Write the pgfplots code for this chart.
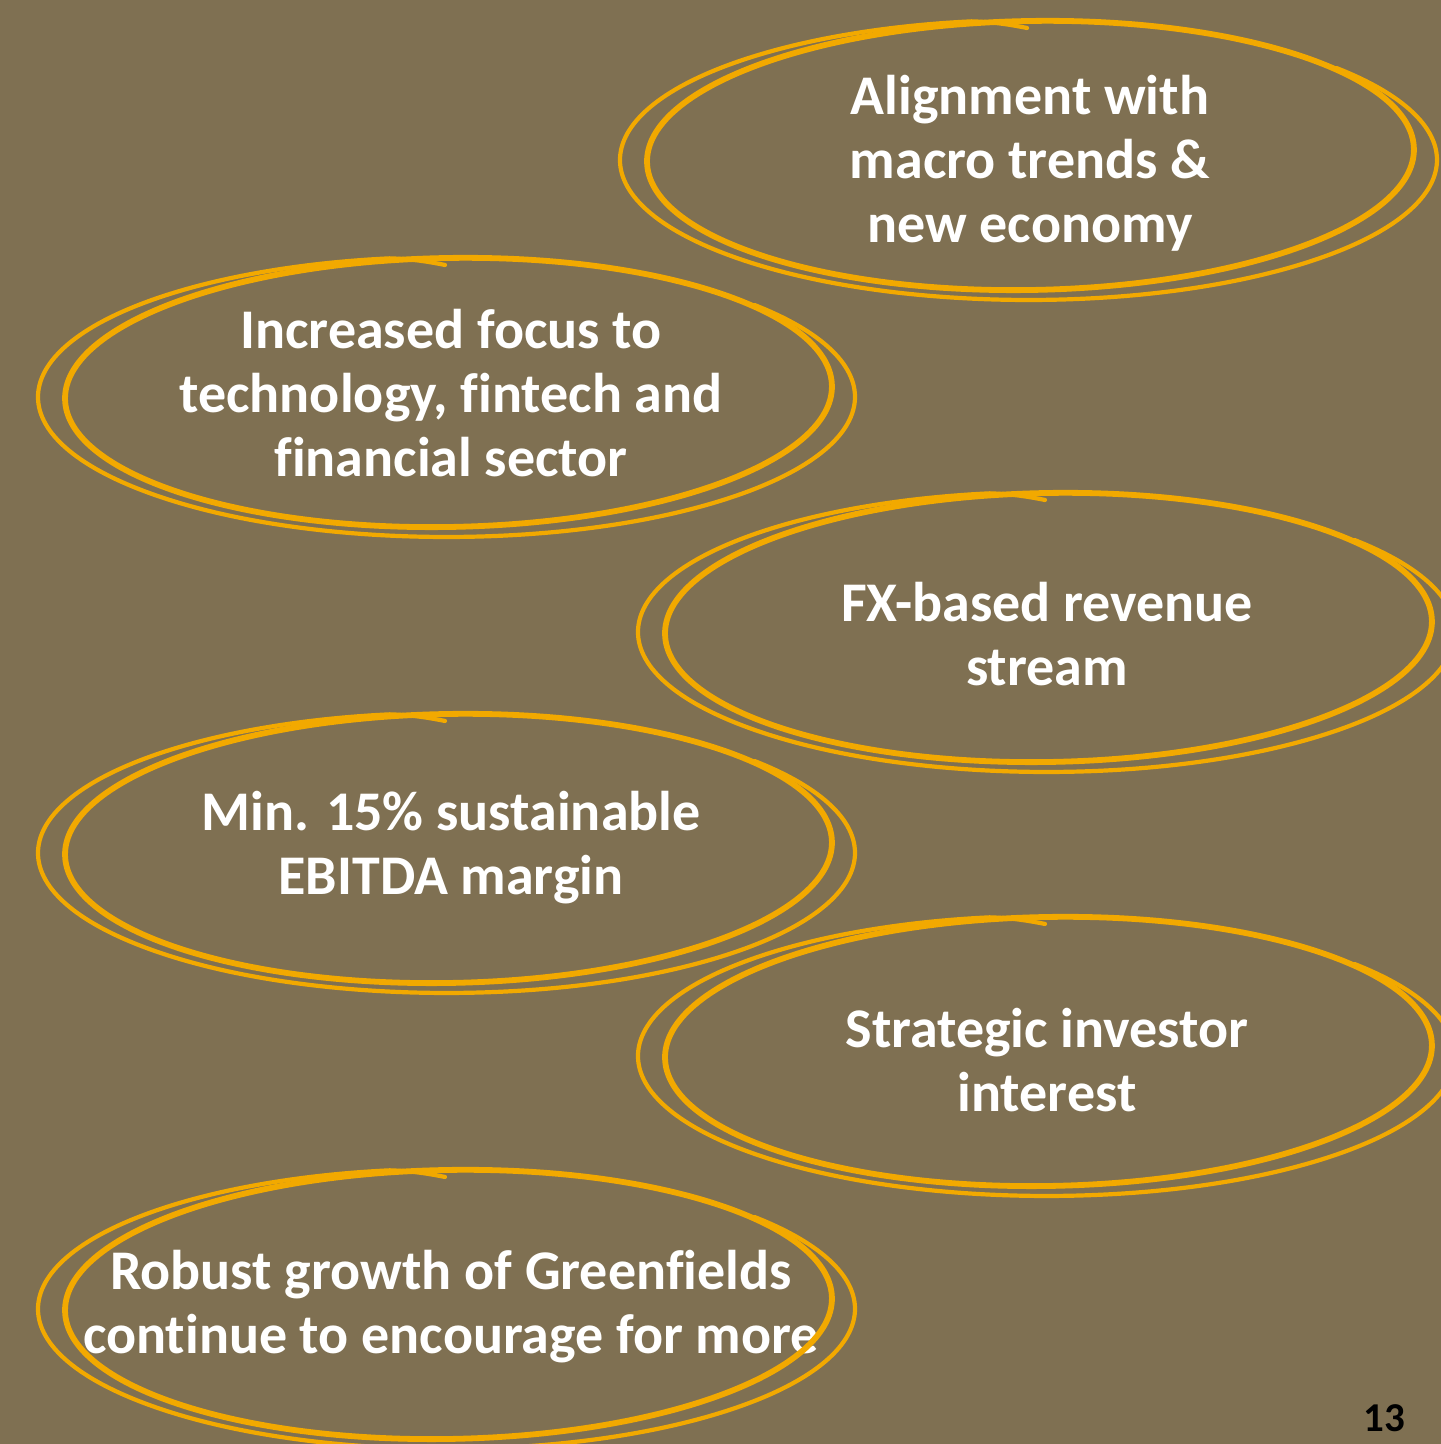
\documentclass[border=0pt]{standalone}
\usepackage{fontspec}
\setmainfont{Carlito}[Ligatures={NoCommon}]
\usepackage{pgfplots}
\pgfplotsset{compat=1.18}
\definecolor{bg}{RGB}{127,112,82}
\definecolor{gold}{RGB}{242,169,0}
\newcommand\shape[2]{%
  \begin{scope}[shift={(#1,#2)}]
    \draw[gold, line width=2.1bp, line cap=round] (446.5,397) ++(-41:408.5 and 140) arc[start angle=-41, end angle=262, x radius=408.5, y radius=140] .. controls (410,259) and (425,261) .. (445,265);
    \draw[gold, line width=2.9bp, rotate around={1:(448.5,392.5)}] (448.5,392.5) ellipse [x radius=383.5, y radius=134.5];
  \end{scope}}
\begin{document}
\begin{tikzpicture}
\fill[bg] (0,0) rectangle (720.5bp,722bp);
\begin{axis}[width=720.5bp, height=722bp, scale only axis, at={(0,0)}, anchor=south west,
  xmin=0, xmax=1441, ymin=0, ymax=1444, y dir=reverse, hide axis, clip=false]
\node[align=center, text=white, font=\fontsize{28bp}{32bp}\selectfont\bfseries] at (axis cs:1030,163) {Alignment with\\macro trends \&\\new economy};
\node[align=center, text=white, font=\fontsize{28bp}{32bp}\selectfont\bfseries] at (axis cs:451,393) {Increased focus to\\technology, fintech and\\financial sector};
\node[align=center, text=white, font=\fontsize{28bp}{32bp}\selectfont\bfseries] at (axis cs:1047,634) {FX-based revenue\\stream};
\node[align=center, text=white, font=\fontsize{28bp}{32bp}\selectfont\bfseries] at (axis cs:451,848) {Min. 15\% sustainable\\EBITDA margin};
\node[align=center, text=white, font=\fontsize{28bp}{32bp}\selectfont\bfseries] at (axis cs:1047,1060) {Strategic investor\\interest};
\node[align=center, text=white, font=\fontsize{28bp}{32bp}\selectfont\bfseries] at (axis cs:451,1307) {Robust growth of Greenfields\\continue to encourage for more};
\node[text=black, inner sep=0pt, anchor=base, font=\fontsize{20.5bp}{24bp}\selectfont\bfseries] at (axis cs:1384,1431) {13};
\end{axis}
\begin{scope}[shift={(0,722bp)}, x=0.5bp, y=-0.5bp]
  \clip (0,0) rectangle (1441,1444);
  \shape{582}{-237}
  \shape{0}{0}
  \shape{600}{235}
  \shape{0}{456}
  \shape{600}{659}
  \shape{0}{912}
\end{scope}
\end{tikzpicture}
\end{document}
